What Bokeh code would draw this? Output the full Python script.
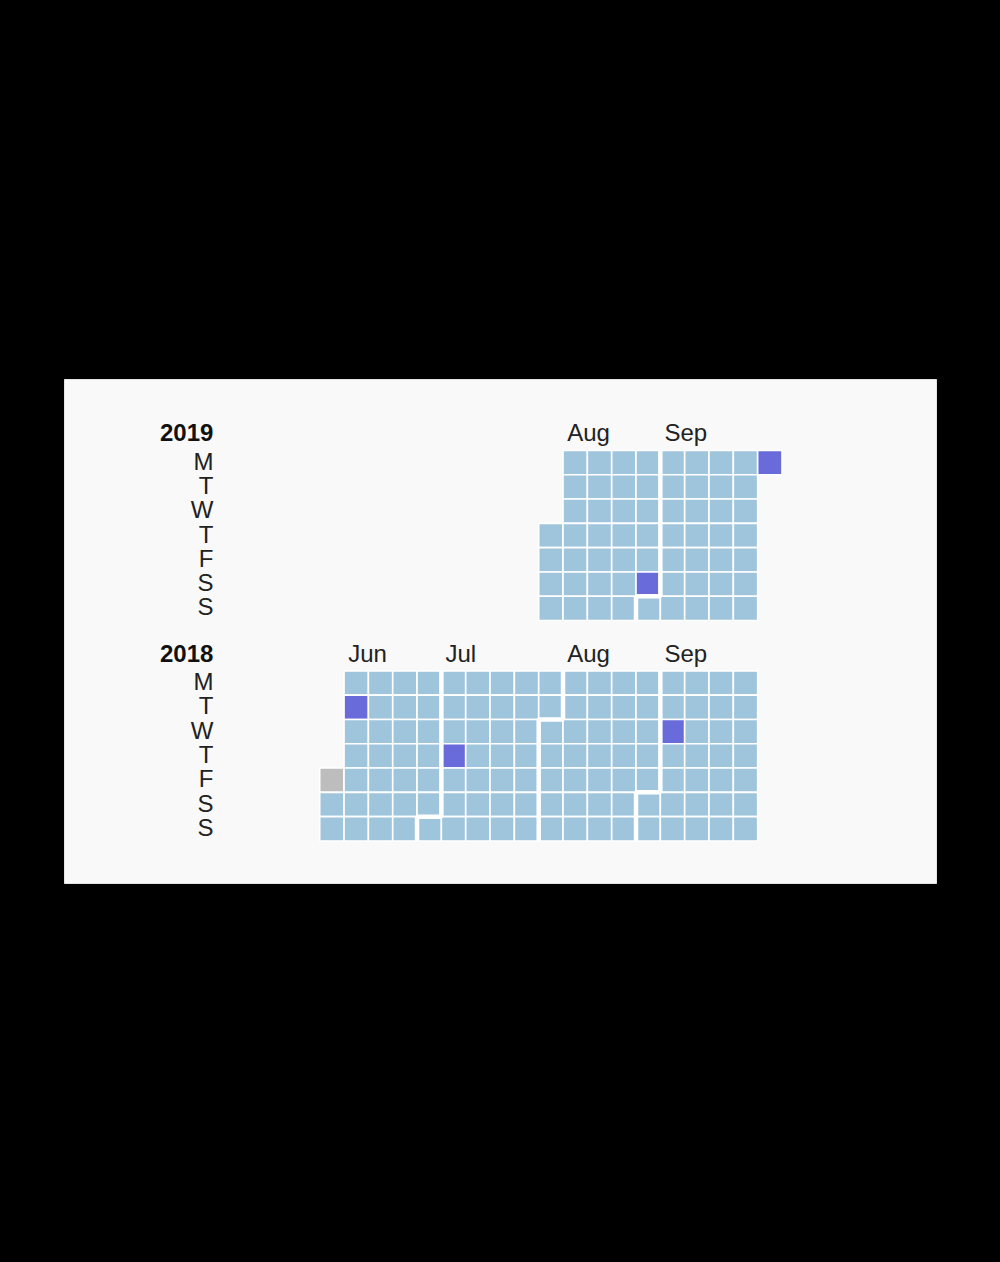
import datetime as dt
from bokeh.plotting import figure
from bokeh.models import Range1d, ColumnDataSource
from bokeh.core.properties import value
from bokeh.embed import file_html
from bokeh.resources import INLINE

# ---------------- data ----------------
years = [2019, 2018]
year_start = ["2019-08-01", "2018-06-01"]
year_end = ["2019-09-30", "2018-09-30"]
day_labels = ["M", "T", "W", "T", "F", "S", "S"]
month_names = ["Jan", "Feb", "Mar", "Apr", "May", "Jun",
               "Jul", "Aug", "Sep", "Oct", "Nov", "Dec"]
high_days = ["2018-06-05", "2018-07-05", "2018-09-05", "2019-08-31", "2019-09-30"]
missing_days = ["2018-06-01"]

# ---------------- style ----------------
C_BASE = "#9fc5dc"
C_HIGH = "#6a6bdb"
C_MISS = "#bdbdbd"
FONT = value("Liberation Sans")
BLOCK_GAP = 9.07       # rows between year blocks
LABEL_X = 17.13        # right edge of day/year labels (week units)
DAY_DY = -0.06         # baseline offset of day letters
HEAD_DY = -1.22        # baseline offset of month / year headers

def D(s):
    return dt.date.fromisoformat(s)

high_set = {D(s) for s in high_days}
miss_set = {D(s) for s in missing_days}

cx, cy, cc = [], [], []
bx, by = [], []
tx, ty, tt = [], [], []
yx, yy, yt = [], [], []
dx, dy, dt_ = [], [], []

for i, yr in enumerate(years):
    off = i * BLOCK_GAP
    s, e = D(year_start[i]), D(year_end[i])
    d = s
    while d <= e:
        wk = d.isocalendar()[1]
        cx.append(wk)
        cy.append(d.weekday() + off)
        cc.append(C_MISS if d in miss_set else (C_HIGH if d in high_set else C_BASE))
        d += dt.timedelta(days=1)
    # month boundaries and labels
    m = dt.date(s.year, s.month, 1)
    while m <= e:
        if m > s:
            c = m.isocalendar()[1]
            w = m.weekday()
            if w == 0:
                bx.append([c - 0.5, c - 0.5])
                by.append([6.5 + off, -0.5 + off])
            else:
                bx.append([c - 0.5, c - 0.5, c + 0.5, c + 0.5])
                by.append([6.5 + off, w - 0.5 + off, w - 0.5 + off, -0.5 + off])
        fm = m
        while fm.weekday() != 0:
            fm += dt.timedelta(days=1)
        if s <= fm <= e:
            tx.append(fm.isocalendar()[1] - 0.5 + 0.17)
            ty.append(off + HEAD_DY)
            tt.append(month_names[m.month - 1])
        m = dt.date(m.year + (m.month // 12), m.month % 12 + 1, 1)
    yx.append(LABEL_X)
    yy.append(off + HEAD_DY)
    yt.append(str(yr))
    for k, lab in enumerate(day_labels):
        dx.append(LABEL_X)
        dy.append(k + off + DAY_DY)
        dt_.append(lab)

# ---------------- figure ----------------
x0 = 11.01
y0 = -3.42
p = figure(width=1000, height=1250, output_backend="svg", toolbar_location=None,
           x_axis_location=None, y_axis_location=None,
           x_range=Range1d(x0, x0 + 872 / 24.33),
           y_range=Range1d(y0 + 504 / 24.3, y0),
           min_border_left=64, min_border_right=64,
           min_border_top=379, min_border_bottom=367,
           background_fill_color="#f9f9f9", border_fill_color="#000000",
           outline_line_color="#e4e4e4")
p.grid.visible = False

p.rect(x="x", y="y", width=1, height=1,
       source=ColumnDataSource(dict(x=cx, y=cy, c=cc)),
       fill_color="c", line_color="white", line_width=1.6)
p.multi_line(xs=bx, ys=by, line_color="white", line_width=4.5)

p.text(x=tx, y=ty, text=tt, text_font=FONT, text_font_size="24px",
       text_align="left", text_baseline="alphabetic", text_color="#222222")
p.text(x=yx, y=yy, text=yt, text_font=FONT, text_font_size="24px",
       text_font_style="bold",
       text_align="right", text_baseline="alphabetic", text_color="#111111")
p.text(x=dx, y=dy, text=dt_, text_font=FONT, text_font_size="24px",
       text_align="right", text_baseline="alphabetic", text_color="#222222")

html = file_html(p, INLINE)
html = html.replace("</head>", "<style>html,body{background:#000000;}</style></head>", 1)
open("out.html", "w").write(html)
